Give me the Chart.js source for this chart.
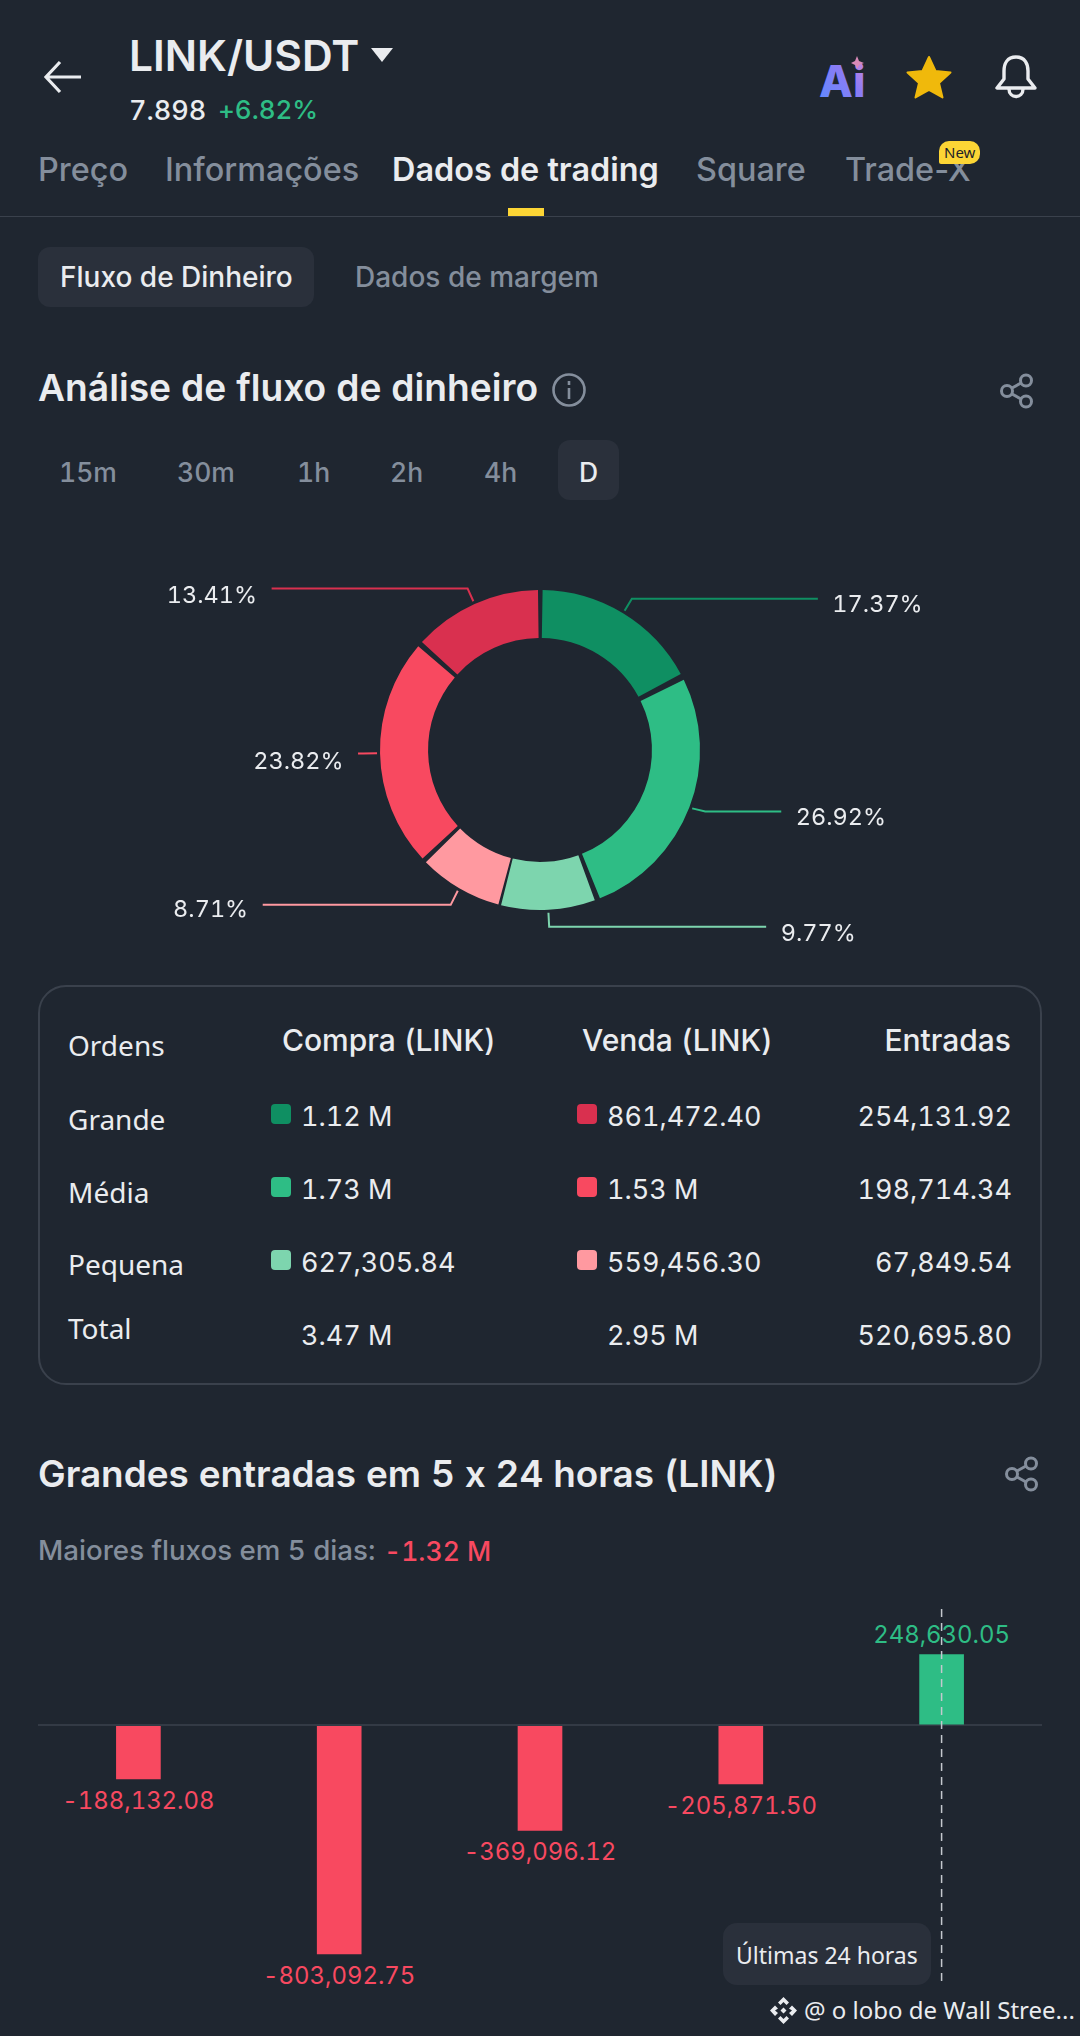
<!DOCTYPE html>
<html lang="pt">
<head>
<meta charset="utf-8">
<title>LINK/USDT</title>
<script src="https://cdn.jsdelivr.net/npm/chart.js@4"></script>
<style>
  html, body { margin: 0; padding: 0; background: #1f2630; }
  #page { position: relative; width: 1080px; height: 2036px; overflow: hidden; background: #1f2630; font-family: Inter, sans-serif; color: #eaecef; font-feature-settings: "calt" 0, "tnum" 1; }
  .t { position: absolute; white-space: nowrap; transform: translateY(-50%); line-height: 1; }
  .r { transform: translate(-100%, -50%); }
  .c { transform: translate(-50%, -50%); }
  .noto { font-family: "Noto Sans", sans-serif; }
  .tab { font-size: 32.4px; font-weight: 500; color: #848e9c; font-feature-settings: "calt" 0; }
  .time { font-size: 26.5px; font-weight: 500; color: #848e9c; }
  .head { font-size: 30px; font-weight: 500; }
  .val { font-size: 27px; }
  .box { position: absolute; background: #2a303b; }
  .sq { position: absolute; width: 20px; height: 20px; border-radius: 4px; }
  svg { position: absolute; overflow: visible; }
  canvas { position: absolute; left: 0; }
</style>
</head>
<body>
<div id="page">
  <!-- top bar -->
  <svg style="left:45px;top:60px" width="36" height="34" fill="none" stroke="#eaecef" stroke-width="3.2"><path d="M1 17H36M15 2L1 17L15 32"/></svg>
  <span class="t" style="left:129px;top:56px;font-size:42.5px;font-weight:600">LINK/USDT</span>
  <svg style="left:371px;top:48px" width="22" height="14"><path d="M0 0H22L11 14Z" fill="#eaecef"/></svg>
  <span class="t" style="left:129px;top:110px;font-size:27px;font-weight:500">7.898</span>
  <span class="t" style="left:218px;top:110px;font-size:26px;font-weight:500;color:#2ebd85">+6.82%</span>
  <svg style="left:819px;top:56px" width="46" height="42">
    <defs><linearGradient id="ai" x1="0" y1="1" x2="1" y2="0"><stop offset="0" stop-color="#5b8cff"/><stop offset=".6" stop-color="#8b7bf5"/><stop offset="1" stop-color="#d88ad8"/></linearGradient></defs>
    <text x="0" y="41" font-family="Inter" font-weight="800" font-size="44" fill="url(#ai)">Ai</text>
    <path d="M38 0L40 5L45 7L40 9L38 13L36 9L32 7L36 5Z" fill="#d88ab8"/>
  </svg>
  <svg style="left:907px;top:56px" width="44" height="42"><path d="M22 1L28.5 15L43.5 16.5L32 27L35.5 41.5L22 34L8.5 41.5L12 27L0.5 16.5L15.5 15Z" fill="#f0b90b" stroke="#f0b90b" stroke-linejoin="round" stroke-width="2"/></svg>
  <svg style="left:995px;top:55px" width="42" height="44" fill="none" stroke="#eaecef" stroke-width="3.4" stroke-linejoin="round"><path d="M21 2C12 2 9 9 9 16V24L2 33H40L33 24V16C33 9 30 2 21 2Z"/><path d="M14 34C14 44 28 44 28 34"/></svg>

  <!-- tabs -->
  <span class="t tab" style="left:38px;top:170px">Preço</span>
  <span class="t tab" style="left:165px;top:170px">Informações</span>
  <span class="t tab" style="left:392px;top:170px;color:#eaecef;font-weight:600">Dados de trading</span>
  <span class="t tab" style="left:696px;top:170px">Square</span>
  <span class="t tab" style="left:845px;top:170px">Trade-X</span>
  <div class="box" style="left:939px;top:141px;width:41px;height:23px;border-radius:10px 10px 10px 2px;background:#fcd535"></div>
  <span class="t noto" style="left:944px;top:152px;font-size:15px;color:#1e2329">New</span>
  <div class="box" style="left:508px;top:208px;width:36px;height:8px;background:#fcd535"></div>
  <div class="box" style="left:0;top:216px;width:1080px;height:1px;background:#3a414c"></div>

  <div class="box" style="left:38px;top:247px;width:276px;height:60px;border-radius:12px"></div>
  <span class="t" style="left:60px;top:277px;font-size:28px;font-weight:500">Fluxo de Dinheiro</span>
  <span class="t" style="left:355px;top:277px;font-size:28px;font-weight:500;color:#848e9c">Dados de margem</span>

  <!-- money flow -->
  <span class="t" style="left:38px;top:388px;font-size:37.2px;font-weight:600">Análise de fluxo de dinheiro</span>
  <svg style="left:552px;top:373px" width="34" height="34" fill="none" stroke="#848e9c" stroke-width="2.6"><circle cx="17" cy="17" r="15.5"/><path d="M17 15V26M17 8V12"/></svg>
  <svg style="left:1000px;top:374px" width="34" height="34" fill="none" stroke="#848e9c" stroke-width="3"><circle cx="7" cy="17" r="5.5"/><circle cx="26" cy="6.5" r="5.5"/><circle cx="26" cy="27.5" r="5.5"/><path d="M12 14L21 9M12 20L21 25"/></svg>

  <div class="box" style="left:558px;top:440px;width:61px;height:60px;border-radius:12px"></div>
  <span class="t time" style="left:59px;top:472px">15m</span>
  <span class="t time" style="left:177px;top:472px">30m</span>
  <span class="t time" style="left:297px;top:472px">1h</span>
  <span class="t time" style="left:390px;top:472px">2h</span>
  <span class="t time" style="left:484px;top:472px">4h</span>
  <span class="t time" style="left:579px;top:472px;color:#eaecef">D</span>

  <canvas id="donut" style="top:560px" width="1080" height="380"></canvas>

  <!-- table -->
  <div style="position:absolute;left:38px;top:985px;width:1000px;height:396px;border:2.5px solid #3a414c;border-radius:28px"></div>

  <!-- big inflows -->
  <span class="t" style="left:38px;top:1474px;font-size:36.9px;font-weight:600">Grandes entradas em 5 x 24 horas (LINK)</span>
  <svg style="left:1005px;top:1457px" width="34" height="34" fill="none" stroke="#848e9c" stroke-width="3"><circle cx="7" cy="17" r="5.5"/><circle cx="26" cy="6.5" r="5.5"/><circle cx="26" cy="27.5" r="5.5"/><path d="M12 14L21 9M12 20L21 25"/></svg>
  <span class="t" style="left:38px;top:1551px;font-size:27.7px;font-weight:500;color:#848e9c">Maiores fluxos em 5 dias:</span>
  <span class="t" style="left:384px;top:1551px;font-size:26.5px;font-weight:500;color:#f84960">-1.32 M</span>

  <canvas id="bars" style="top:1600px;left:38px;z-index:2" width="1004" height="400"></canvas>

  <div class="box" style="left:723px;top:1923px;width:208px;height:62px;border-radius:14px;z-index:3"></div>
  <span class="t noto" style="left:736px;top:1955px;font-size:23px;z-index:3">Últimas 24 horas</span>

  <svg style="left:770px;top:1997px" width="27" height="27" fill="#eaecef"><path d="M13.5 0L19 5.5L16.5 8L13.5 5L10.5 8L8 5.5ZM5 8.5L8 11.5L5 13.5L8 16L5 19L0 13.5ZM22 8.5L27 13.5L22 19L19 16L22 13.5L19 11.5ZM13.5 10.5L16.5 13.5L13.5 16.5L10.5 13.5ZM8 21.5L10.5 19L13.5 22L16.5 19L19 21.5L13.5 27Z"/></svg>
  <span class="t noto" style="left:804px;top:2010px;font-size:24px">@ o lobo de Wall Stree...</span>
</div>

<script>
// donut: % of money flow, going round from the top
const flowLabels = ['Compra grande', 'Compra média', 'Compra pequena', 'Venda pequena', 'Venda média', 'Venda grande'];
const flowShares = [17.37, 26.92, 9.77, 8.71, 23.82, 13.41];
const flowColors = ['#0f8f62', '#2ebd85', '#7dd5ae', '#ff99a0', '#f84960', '#d9304f'];
// leader lines: horizontal run after the elbow, nudge of the run, label drop below it
const leaderRuns = [186, 76, 217, 188, 5, 196];
const leaderNudge = [0, -2, 0, 2, 0, 0];
const labelDrop = [5, 6, 6, 4, 7, 7];

// orders table
const orderRows = ['Grande', 'Média', 'Pequena', 'Total'];
const buyValues = ['1.12 M', '1.73 M', '627,305.84', '3.47 M'];
const sellValues = ['861,472.40', '1.53 M', '559,456.30', '2.95 M'];
const inflowValues = ['254,131.92', '198,714.34', '67,849.54', '520,695.80'];
const buyColors = ['#0f8f62', '#2ebd85', '#7dd5ae'];
const sellColors = ['#d9304f', '#f84960', '#ff99a0'];

// big inflows, 5 x 24 h
const dayLabels = ['Dia 1', 'Dia 2', 'Dia 3', 'Dia 4', 'Últimas 24 horas'];
const dayInflows = [-188132.08, -803092.75, -369096.12, -205871.50, 248630.05];

const page = document.getElementById('page');

function addText(txt, x, y, cls, style) {
  const s = document.createElement('span');
  s.className = 't ' + cls;
  s.textContent = txt;
  s.style.cssText = `left:${x}px;top:${y}px;` + (style || '');
  page.appendChild(s);
}
function addSquare(color, x, y) {
  const d = document.createElement('div');
  d.className = 'sq';
  d.style.cssText = `left:${x}px;top:${y - 10}px;background:${color}`;
  page.appendChild(d);
}

addText('Ordens', 68, 1045, 'noto', 'font-size:28px');
addText('Compra (LINK)', 282, 1040, 'head');
addText('Venda (LINK)', 582, 1040, 'head');
addText('Entradas', 1011, 1040, 'head r');

const labelY = [1119, 1192, 1264, 1328];
const valueY = [1116, 1189, 1262, 1335];
orderRows.forEach((row, i) => {
  addText(row, 68, labelY[i], 'noto', 'font-size:28px');
  addText(buyValues[i], 301, valueY[i], 'val');
  addText(sellValues[i], 607, valueY[i], 'val');
  addText(inflowValues[i], 1012, valueY[i], 'val r');
  if (i < 3) {
    addSquare(buyColors[i], 271, valueY[i] - 2);
    addSquare(sellColors[i], 577, valueY[i] - 2);
  }
});

const leaderPlugin = {
  id: 'leaders',
  afterDatasetsDraw(chart) {
    const ctx = chart.ctx;
    chart.getDatasetMeta(0).data.forEach((arc, i) => {
      const mid = (arc.startAngle + arc.endAngle) / 2;
      const r = arc.outerRadius + arc.options.spacing / 2;
      const dirX = Math.cos(mid), dirY = Math.sin(mid);
      const ax = arc.x + dirX * (r + 3), ay = arc.y + dirY * (r + 3);
      const bx = arc.x + dirX * (r + 17), by = arc.y + dirY * (r + 17) + leaderNudge[i];
      const ex = bx + (dirX >= 0 ? 1 : -1) * leaderRuns[i];
      ctx.save();
      ctx.strokeStyle = flowColors[i];
      ctx.lineWidth = 2;
      ctx.beginPath();
      ctx.moveTo(ax, ay);
      ctx.lineTo(bx, by);
      ctx.lineTo(ex, by);
      ctx.stroke();
      ctx.restore();
    });
  }
};

const donut = new Chart(document.getElementById('donut'), {
  type: 'doughnut',
  data: {
    labels: flowLabels,
    datasets: [{ data: flowShares, backgroundColor: flowColors, borderWidth: 0, spacing: 8 }]
  },
  options: {
    responsive: false,
    animation: false,
    cutout: '69.2%',
    layout: { padding: 30 },
    plugins: { legend: { display: false }, tooltip: { enabled: false } }
  },
  plugins: [leaderPlugin]
});

// percent labels go on top as page text, placed from the arcs
donut.getDatasetMeta(0).data.forEach((arc, i) => {
  const mid = (arc.startAngle + arc.endAngle) / 2;
  const r = arc.outerRadius + arc.options.spacing / 2 + 17;
  const right = Math.cos(mid) >= 0;
  const ex = arc.x + Math.cos(mid) * r + (right ? 1 : -1) * (leaderRuns[i] + 14.5);
  const y = 560 + arc.y + Math.sin(mid) * r + leaderNudge[i] + labelDrop[i];
  addText(flowShares[i].toFixed(2) + '%', ex, y, right ? '' : 'r', 'font-size:23.5px');
});

const markerPlugin = {
  id: 'marker',
  afterDatasetsDraw(chart) {
    const ctx = chart.ctx;
    // marker of the current period
    const x = chart.scales.x.getPixelForValue(dayLabels.length - 1);
    ctx.save();
    ctx.strokeStyle = '#c4c8ce';
    ctx.lineWidth = 1.5;
    ctx.setLineDash([8, 6]);
    ctx.beginPath();
    ctx.moveTo(x, 9);
    ctx.lineTo(x, 385);
    ctx.stroke();
    ctx.restore();
  }
};

const bars = new Chart(document.getElementById('bars'), {
  type: 'bar',
  data: {
    labels: dayLabels,
    datasets: [{
      data: dayInflows,
      backgroundColor: dayInflows.map(v => v < 0 ? '#f84960' : '#2ebd85'),
      barThickness: 44
    }]
  },
  options: {
    responsive: false,
    animation: false,
    layout: { padding: 0 },
    plugins: { legend: { display: false }, tooltip: { enabled: false } },
    scales: {
      x: { display: false },
      y: {
        min: -965000,
        max: 440000,
        afterBuildTicks(scale) { scale.ticks = [{ value: 0 }]; },
        border: { display: false },
        ticks: { display: false },
        grid: { color: '#333a45', lineWidth: 2, drawTicks: false }
      }
    }
  },
  plugins: [markerPlugin]
});

bars.getDatasetMeta(0).data.forEach((bar, i) => {
  const v = dayInflows[i];
  const txt = v.toLocaleString('en-US', { minimumFractionDigits: 2, maximumFractionDigits: 2 });
  const y = 1600 + bar.y + (v < 0 ? 22 : -19);
  addText(txt, 38 + bar.x, y, 'c', 'font-size:23.9px;color:' + (v < 0 ? '#f84960' : '#2ebd85'));
});
</script>
</body>
</html>
